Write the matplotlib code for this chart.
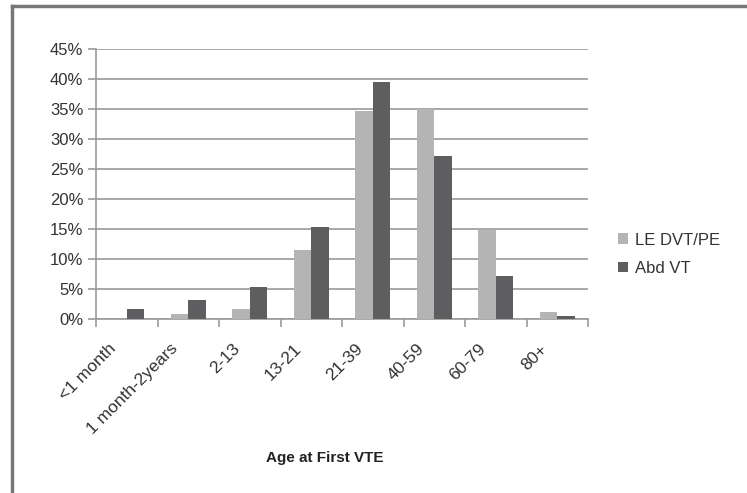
import matplotlib
matplotlib.use("Agg")
import matplotlib.pyplot as plt
from matplotlib.lines import Line2D
from matplotlib.ticker import FuncFormatter, FixedLocator
import matplotlib.transforms as mtransforms
import numpy as np

plt.rcParams['font.family'] = ['Liberation Sans', 'DejaVu Sans']

categories = ["<1 month", "1 month-2years", "2-13", "13-21", "21-39", "40-59", "60-79", "80+"]
le_dvt_pe = [0.0, 0.8, 1.7, 11.5, 34.6, 35.0, 14.8, 1.2]
abd_vt = [1.7, 3.1, 5.4, 15.3, 39.5, 27.2, 7.1, 0.5]
series_names = ["LE DVT/PE", "Abd VT"]
colors = ["#b4b4b4", "#5e5e60"]

fig = plt.figure(figsize=(7.47, 4.93), dpi=100)
ax = fig.add_axes([0.1285, 0.353, 0.659, 0.5476])

x = np.arange(len(categories))
w = 0.285
ax.bar(x - w / 2, le_dvt_pe, width=w, color=colors[0], label=series_names[0], zorder=3)
ax.bar(x + w / 2, abd_vt, width=w, color=colors[1], label=series_names[1], zorder=3)

ax.set_xlim(-0.5, len(categories) - 0.5)
ax.set_ylim(0, 45)
ax.set_yticks(np.arange(0, 46, 5))
ax.yaxis.set_major_formatter(FuncFormatter(lambda v, p: f"{int(v)}%"))
ax.yaxis.grid(True, color="#9a9a9a", linewidth=1.2, zorder=0)
ax.set_axisbelow(True)

ax.set_xticks(x)
ax.set_xticklabels(categories, rotation=45, ha="right", rotation_mode="anchor",
                   fontsize=12.5, color="#333333")
ax.tick_params(axis="x", which="major", length=0, pad=16)
offset = mtransforms.ScaledTranslation(-18 / 100, 0, fig.dpi_scale_trans)
for lab in ax.get_xticklabels():
    lab.set_transform(lab.get_transform() + offset)
ax.xaxis.set_minor_locator(FixedLocator(np.arange(-0.5, len(categories), 1)))
ax.tick_params(axis="x", which="minor", length=6, color="#9a9a9a", width=1.2, direction="out")
ax.tick_params(axis="y", length=6, color="#9a9a9a", width=1.2, labelsize=12,
               labelcolor="#333333", pad=3)

for s in ["top", "right"]:
    ax.spines[s].set_visible(False)
for s in ["left", "bottom"]:
    ax.spines[s].set_color("#9a9a9a")
    ax.spines[s].set_linewidth(1.2)

ax.set_xlabel("Age at First VTE", fontsize=11, fontweight="bold", color="#222222")
ax.xaxis.set_label_coords(0.465, -0.49)

leg = ax.legend(loc="center left", bbox_to_anchor=(1.03, 0.24), frameon=False,
                fontsize=12, handlelength=0.6, handleheight=0.6, handletextpad=0.4,
                labelspacing=0.8)
for t in leg.get_texts():
    t.set_color("#333333")

# outer frame (left and top)
fig.add_artist(Line2D([12 / 747, 12 / 747], [0, 1 - 6 / 493], transform=fig.transFigure,
                      color="#777777", linewidth=2.5))
fig.add_artist(Line2D([12 / 747, 1], [1 - 6 / 493, 1 - 6 / 493], transform=fig.transFigure,
                      color="#777777", linewidth=2.5))

fig.savefig("out.png", dpi=100)
